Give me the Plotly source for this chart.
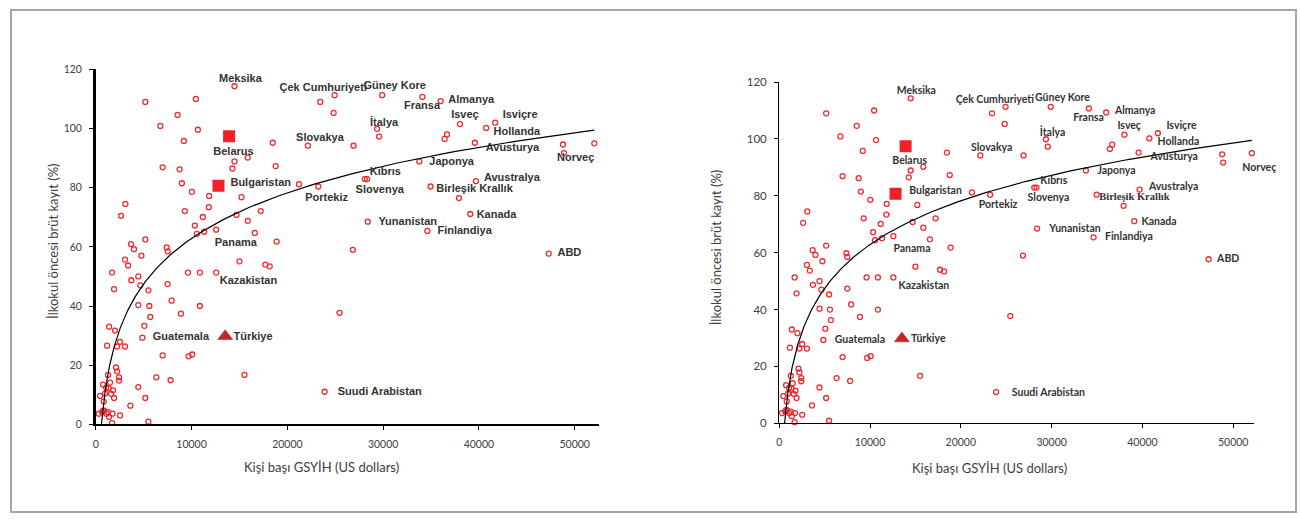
import numpy as np
import plotly.graph_objects as go

W, H = 1300, 520

# ---- data (GDP per capita in US$, pre-primary gross enrolment %) ----
circle_x = [14480, 5170, 10450, 8540, 6740, 10660, 9200, 6980, 8750, 8990,
            10030, 11840, 11800, 9300, 11180, 10340, 10550, 11320, 12570, 3090,
            2640, 3680, 3990, 5170, 7400, 7500, 14480, 15870, 14270, 15210,
            14690, 15870, 17220, 16600, 18880, 18470, 18780, 21220, 23230, 22150,
            26910, 23440, 24930, 24830, 29375, 29580, 28090, 28330, 28400, 26840,
            29900, 34100, 36010, 38020, 40760, 41700, 36670, 36420, 39580, 48780,
            52050, 48890, 33780, 39690, 34960, 37920, 39100, 34620, 47290, 25450,
            23890, 3050, 3370, 4760, 1700, 3710, 4440, 4650, 1910, 5490,
            7500, 9620, 10870, 12570, 15000, 17710, 18160, 4440, 5590, 7920,
            10870, 8890, 5690, 5070, 1390, 2010, 4860, 2530, 1180, 2220,
            3050, 6980, 9690, 10070, 2120, 2220, 1280, 2430, 2430, 15520,
            6320, 7810, 1490, 760, 1080, 1350, 1800, 4440, 970, 1600,
            450, 1910, 5170, 830, 3610, 760, 860, 660, 1280, 1740,
            310, 1110, 1390, 2530, 1700, 5490]
circle_y = [114.3, 109.0, 110.0, 104.6, 100.9, 99.6, 95.8, 86.9, 86.2, 81.5,
            78.6, 77.2, 73.4, 72.1, 70.1, 67.2, 64.4, 65.1, 65.8, 74.5,
            70.5, 60.9, 59.2, 62.5, 59.8, 58.5, 88.9, 90.2, 86.5, 76.8,
            70.8, 68.8, 72.1, 64.7, 61.8, 95.2, 87.3, 81.2, 80.4, 94.2,
            94.2, 109.0, 111.3, 105.3, 99.9, 97.3, 82.9, 82.9, 68.5, 59.0,
            111.3, 110.7, 109.3, 101.5, 100.2, 102.0, 98.0, 96.5, 95.2, 94.6,
            95.0, 91.7, 88.9, 82.2, 80.4, 76.5, 71.1, 65.4, 57.7, 37.7,
            11.0, 55.7, 53.7, 57.0, 51.3, 48.7, 50.0, 47.0, 45.7, 45.3,
            47.4, 51.3, 51.3, 51.3, 55.1, 54.0, 53.4, 40.3, 40.0, 41.8,
            40.0, 37.4, 36.3, 33.3, 33.0, 31.7, 29.3, 27.9, 26.6, 26.3,
            26.3, 23.3, 23.0, 23.6, 19.2, 17.9, 16.7, 15.9, 14.8, 16.7,
            15.9, 14.9, 14.1, 13.4, 12.4, 12.2, 11.5, 12.6, 10.4, 10.3,
            9.6, 8.9, 8.9, 7.7, 6.3, 4.6, 4.6, 4.1, 4.1, 3.6,
            3.6, 3.6, 2.5, 3.0, 0.4, 0.9]

square_names = ["Belarus", "Bulgaristan"]
square_x = [13920, 12810]
square_y = [97.4, 80.7]

triangle_names = ["Türkiye"]
triangle_x = [13510]
triangle_y = [29.8]

# logarithmic trendline y = a*ln(x) + b (coefficients)
trend_a = 22.2
trend_b = -141.6
trend_x_end = 52050

label_text = ["Meksika", "Çek Cumhuriyeti", "Güney Kore", "Almanya", "Fransa",
              "İtalya", "Isveç", "Isviçre", "Hollanda", "Slovakya",
              "Avusturya", "Norveç", "Belarus", "Japonya", "Kıbrıs",
              "Bulgaristan", "Avustralya", "Slovenya", "Birleşik Krallık", "Portekiz",
              "Kanada", "Yunanistan", "Finlandiya", "ABD", "Panama",
              "Kazakistan", "Guatemala", "Türkiye", "Suudi Arabistan"]
label_x = [15100, 23750, 31200, 39200, 34060,
           30100, 38540, 44300, 43960, 23400,
           43500, 50100, 14375, 37150, 30240,
           17220, 43440, 29650, 39550, 24100,
           41840, 32570, 38510, 49450, 14620,
           15940, 8890, 16420, 29650]
label_y = [116.7, 113.6, 114.2, 109.7, 107.4,
           101.8, 104.4, 104.4, 98.7, 96.6,
           93.5, 89.8, 92.0, 88.6, 85.1,
           81.4, 83.1, 79.2, 79.6, 76.6,
           70.8, 68.2, 65.3, 57.7, 61.1,
           48.2, 29.3, 29.6, 10.7]
label_pos = ["middle center"] * len(label_text)

# right panel: Norveç label sits past the axis end, anchored at its left edge
label_x_right = list(label_x)
label_pos_right = list(label_pos)
label_x_right[label_text.index("Norveç")] = 51000
label_pos_right[label_text.index("Norveç")] = "middle right"
label_x_right[label_text.index("Birleşik Krallık")] = 39120

x_ticks = [0, 10000, 20000, 30000, 40000, 50000]
y_ticks = [0, 20, 40, 60, 80, 100, 120]

x_title = "Kişi başı GSYİH (US dollars)"
y_title = "İlkokul öncesi brüt kayıt (%)"

# ---- figure ----
RED = "#ee2a2f"
fig = go.Figure()

trend_x0 = np.exp(-trend_b / trend_a)
tx = np.geomspace(trend_x0, trend_x_end, 300)
ty = trend_a * np.log(tx) + trend_b


def add_panel(xa, ya, label_xs, label_ps, lab_family, lab_size, special_family):
    fig.add_trace(go.Scatter(x=circle_x, y=circle_y, mode="markers", xaxis=xa, yaxis=ya,
                             marker=dict(symbol="circle-open", size=5, color=RED,
                                         line=dict(width=1.3, color=RED)),
                             showlegend=False, hoverinfo="x+y", cliponaxis=False))
    fig.add_trace(go.Scatter(x=tx, y=ty, mode="lines", xaxis=xa, yaxis=ya,
                             line=dict(color="black", width=1.2),
                             showlegend=False, hoverinfo="skip"))
    fig.add_trace(go.Scatter(x=square_x, y=square_y, mode="markers", xaxis=xa, yaxis=ya,
                             marker=dict(symbol="square", size=12, color="#ee2228",
                                         line=dict(width=0)),
                             text=square_names, showlegend=False, hoverinfo="text"))
    fig.add_trace(go.Scatter(x=triangle_x, y=triangle_y, mode="markers", xaxis=xa, yaxis=ya,
                             marker=dict(symbol="triangle-up", size=13, color="#cc2229",
                                         line=dict(width=0.5, color="#a01c20")),
                             text=triangle_names, showlegend=False, hoverinfo="text"))
    fams = [special_family if (t == "Birleşik Krallık" and special_family) else lab_family
            for t in label_text]
    fig.add_trace(go.Scatter(x=label_xs, y=label_y, mode="text", xaxis=xa, yaxis=ya,
                             text=label_text, textposition=label_ps,
                             textfont=dict(family=fams, size=lab_size, color="#333333", weight=700),
                             showlegend=False, hoverinfo="skip", cliponaxis=False))


add_panel("x", "y", label_x, label_pos, "Liberation Sans", 11, None)
add_panel("x2", "y2", label_x_right, label_pos_right, "Lato", 10.5, "Liberation Serif")


def xaxis(domain, rng, lw, anchor, fsize):
    return dict(domain=domain, range=rng, anchor=anchor, tickvals=x_ticks,
                ticktext=[str(v) for v in x_ticks], showgrid=False, zeroline=False,
                showline=True, linecolor="black", linewidth=lw, ticks="outside",
                ticklen=4, tickcolor="black", tickwidth=1, ticklabelstandoff=5,
                tickfont=dict(family="Lato", size=fsize, color="#404040"))


def yaxis(domain, lw, anchor, fsize):
    return dict(domain=domain, range=[0, 120], anchor=anchor, tickvals=y_ticks,
                showgrid=False, zeroline=False, showline=True, linecolor="black",
                linewidth=lw, ticks="outside", ticklen=4, tickcolor="black",
                tickwidth=1, ticklabelstandoff=5,
                tickfont=dict(family="Lato", size=fsize, color="#404040"))


fig.update_layout(
    width=W, height=H, margin=dict(l=0, r=0, t=0, b=0),
    paper_bgcolor="white", plot_bgcolor="white",
    xaxis=xaxis([93 / W, 597 / W], [0, 52500], 1.5, "y", 10.5),
    yaxis=yaxis([1 - 428 / H, 1 - 64 / H], 2.5, "x", 10.5),
    xaxis2=xaxis([778 / W, 1254 / W], [0, 52300], 1.3, "y2", 10.5),
    yaxis2=yaxis([1 - 427 / H, 1 - 77 / H], 1.3, "x2", 11.5),
    shapes=[dict(type="rect", xref="paper", yref="paper",
                 x0=8 / W, x1=1296 / W, y0=1 - 518 / H, y1=1 - 3 / H,
                 line=dict(color="#a6a6a6", width=2), fillcolor="rgba(0,0,0,0)")],
)

title_font = dict(family="Lato", size=13, color="#404040")
for tx_, ty_, txt, ang in [(319, 472, x_title, 0), (989, 473, x_title, 0),
                           (50, 240, y_title, -90), (714, 247, y_title, -90)]:
    fig.add_annotation(x=tx_ / W, y=1 - ty_ / H, xref="paper", yref="paper", text=txt,
                       xanchor="center", yanchor="middle", showarrow=False,
                       textangle=ang, font=title_font)

fig.write_html("out.html", config={"displayModeBar": False},
               post_script="document.body.style.margin='0';")
